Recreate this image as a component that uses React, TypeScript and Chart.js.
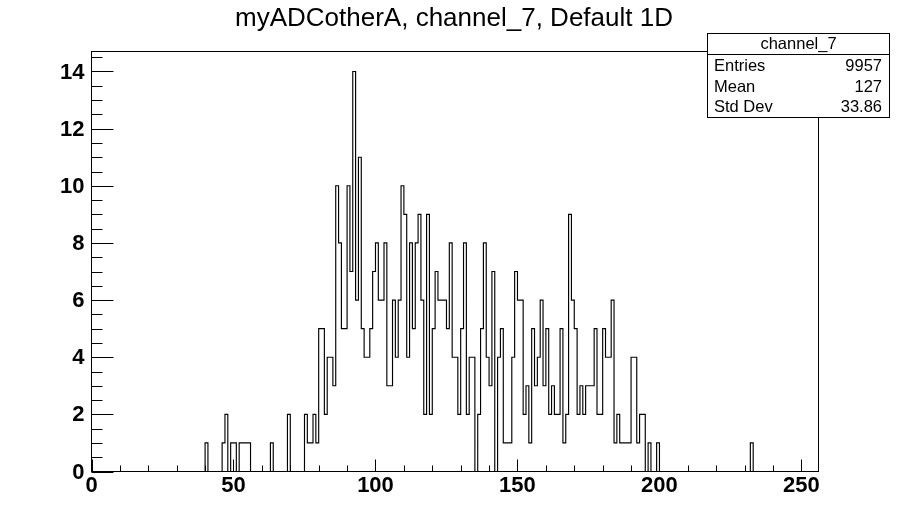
import { useEffect, useRef } from "react";
import { Chart, registerables } from "chart.js";

Chart.register(...registerables);

// ---------- data ----------
const TITLE = "myADCotherA, channel_7, Default 1D";
const N_BINS = 256;
const X_MIN = 0;
const X_MAX = 256;
const Y_MIN = 0;
const Y_MAX = 14.7;

// bin contents, starting at bin FIRST_BIN (bins outside are empty)
const FIRST_BIN = 40;
const COUNTS = [
  0, 1, 0, 0, 0, 0, 0, 1, 2, 0, // 40-49
  1, 1, 0, 1, 1, 1, 1, 0, 0, 0, // 50-59
  0, 0, 0, 0, 1, 0, 0, 0, 0, 0, // 60-69
  2, 0, 0, 0, 0, 0, 2, 1, 1, 2, // 70-79
  1, 5, 5, 2, 4, 4, 3, 10, 8, 5, // 80-89
  5, 10, 7, 14, 6, 11, 5, 4, 4, 5, // 90-99
  7, 8, 6, 6, 8, 3, 3, 6, 4, 6, // 100-109
  10, 9, 4, 8, 5, 8, 9, 6, 2, 9, // 110-119
  2, 5, 7, 6, 6, 6, 5, 8, 4, 4, // 120-129
  2, 5, 8, 2, 4, 4, 0, 2, 5, 8, // 130-139
  4, 3, 7, 0, 4, 5, 1, 1, 1, 4, // 140-149
  7, 6, 6, 2, 3, 1, 5, 3, 4, 6, // 150-159
  3, 5, 2, 3, 2, 2, 5, 1, 2, 9, // 160-169
  6, 5, 2, 3, 2, 3, 3, 3, 5, 2, // 170-179
  2, 5, 4, 4, 6, 1, 2, 1, 1, 1, // 180-189
  1, 4, 4, 1, 2, 2, 0, 1, 0, 0, // 190-199
  1, 0, 0, 0, 0, 0, 0, 0, 0, 0, // 200-209
  0, 0, 0, 0, 0, 0, 0, 0, 0, 0, // 210-219
  0, 0, 0, 0, 0, 0, 0, 0, 0, 0, // 220-229
  0, 0, 0, 1, // 230-233
];

const X_LABEL_TICKS = [0, 50, 100, 150, 200, 250];
const X_MINOR_STEP = 10;
const Y_LABEL_TICKS = [0, 2, 4, 6, 8, 10, 12, 14];
const Y_MINOR_STEP = 0.5;

const STATS_TITLE = "channel_7";
const STATS_NAMES = ["Entries", "Mean", "Std Dev"];
const STATS_VALUES = ["9957", "127", "33.86"];

// ---------- rendering ----------
const W = 908;
const H = 524;
const FONT = "'Liberation Sans', Arial, Helvetica, sans-serif";

const rootPlugin = {
  id: "rootStyle",
  afterDraw(chart: any) {
    const ctx: CanvasRenderingContext2D = chart.ctx;
    const a = chart.chartArea;
    const xs = chart.scales.x;
    const ys = chart.scales.y;
    ctx.save();
    ctx.strokeStyle = "#000";
    ctx.fillStyle = "#000";
    ctx.lineWidth = 1;

    // frame
    ctx.strokeRect(a.left, a.top, a.right - a.left, a.bottom - a.top);

    // x ticks (inside, upward)
    ctx.beginPath();
    for (let v = X_MIN; v <= X_MAX + 1e-9; v += X_MINOR_STEP) {
      const px = Math.round(xs.getPixelForValue(v)) + 0.5;
      const major = X_LABEL_TICKS.includes(v);
      const len = major ? 12 : 6;
      ctx.moveTo(px, a.bottom);
      ctx.lineTo(px, a.bottom - len);
    }
    // y ticks (inside, rightward)
    for (let v = Y_MIN; v <= Y_MAX + 1e-9; v += Y_MINOR_STEP) {
      const py = Math.round(ys.getPixelForValue(v)) + 0.5;
      const major = Y_LABEL_TICKS.includes(v);
      const len = major ? 22 : 11;
      ctx.moveTo(a.left, py);
      ctx.lineTo(a.left + len, py);
    }
    ctx.stroke();

    // tick labels
    ctx.font = `bold 22px ${FONT}`;
    ctx.textAlign = "center";
    ctx.textBaseline = "top";
    for (const v of X_LABEL_TICKS) {
      ctx.fillText(String(v), xs.getPixelForValue(v), a.bottom + 3);
    }
    ctx.textAlign = "right";
    ctx.textBaseline = "middle";
    for (const v of Y_LABEL_TICKS) {
      ctx.fillText(String(v), a.left - 7, ys.getPixelForValue(v) + 1);
    }

    // title
    ctx.font = `26px ${FONT}`;
    ctx.textAlign = "center";
    ctx.textBaseline = "alphabetic";
    ctx.fillText(TITLE, W / 2, 26);

    // stats box
    const bx = 707.5, by = 33.5, bw = 182, bh = 84;
    ctx.fillStyle = "#fff";
    ctx.fillRect(bx, by, bw, bh);
    ctx.strokeRect(bx, by, bw, bh);
    ctx.beginPath();
    ctx.moveTo(bx, 54.5);
    ctx.lineTo(bx + bw, 54.5);
    ctx.stroke();
    ctx.fillStyle = "#000";
    ctx.font = `16.5px ${FONT}`;
    ctx.textBaseline = "middle";
    ctx.textAlign = "center";
    ctx.fillText(STATS_TITLE, bx + bw / 2, 44.5);
    const rowY = [66, 87, 107.5];
    STATS_NAMES.forEach((n, i) => {
      ctx.textAlign = "left";
      ctx.fillText(n, 714, rowY[i]);
      ctx.textAlign = "right";
      ctx.fillText(STATS_VALUES[i], 882, rowY[i]);
    });
    ctx.restore();
  },
};

export default function App() {
  const ref = useRef<HTMLCanvasElement>(null);
  useEffect(() => {
    const canvas = ref.current;
    if (!canvas) return;
    const points: { x: number; y: number }[] = [];
    const binW = (X_MAX - X_MIN) / N_BINS;
    for (let b = 0; b < N_BINS; b++) {
      const i = b - FIRST_BIN;
      const y = i >= 0 && i < COUNTS.length ? COUNTS[i] : 0;
      points.push({ x: X_MIN + b * binW, y });
    }
    points.push({ x: X_MAX, y: 0 });

    const chart = new Chart(canvas, {
      type: "line",
      data: {
        datasets: [
          {
            data: points,
            stepped: "after",
            borderColor: "#000",
            borderWidth: 1.15,
            pointRadius: 0,
            fill: false,
            tension: 0,
          },
        ],
      },
      options: {
        responsive: false,
        animation: false,
        devicePixelRatio: 1,
        layout: { padding: { left: 91.5, top: 51.5, right: W - 818.5, bottom: H - 471.5 } },
        plugins: { legend: { display: false }, tooltip: { enabled: false } },
        scales: {
          x: { type: "linear", min: X_MIN, max: X_MAX, display: false },
          y: { type: "linear", min: Y_MIN, max: Y_MAX, display: false },
        },
      },
      plugins: [rootPlugin],
    });
    return () => chart.destroy();
  }, []);
  return (
    <div style={{ position: "absolute", left: 0, top: 0, width: W, height: H, background: "#fff" }}>
      <canvas ref={ref} width={W} height={H} style={{ display: "block", width: W, height: H }} />
    </div>
  );
}
